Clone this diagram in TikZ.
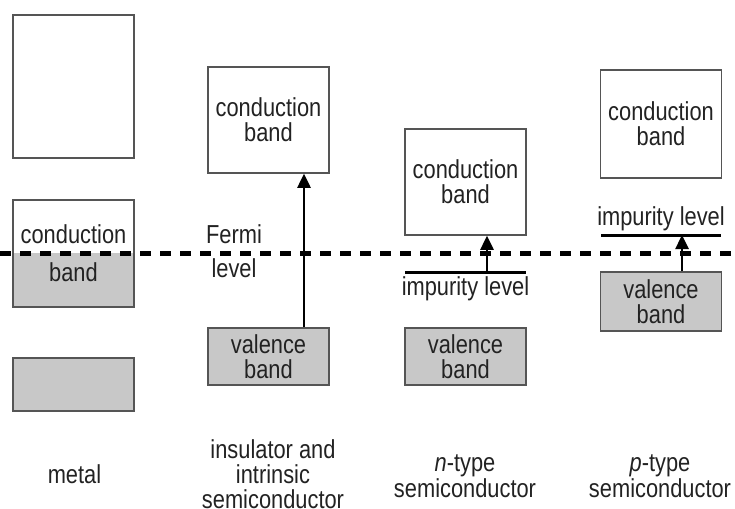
\documentclass[tikz,border=0pt]{standalone}
\usepackage{fontspec}
\setmainfont{Liberation Sans}[FakeStretch=0.84]
\usetikzlibrary{arrows.meta}
\definecolor{bandgray}{HTML}{C8C8C8}
\definecolor{edgegray}{HTML}{555555}
\definecolor{txt}{HTML}{222222}
\tikzset{
  band/.style={draw=edgegray, line width=1.5pt, minimum width=#1, inner sep=0pt, align=center, text=txt},
  wband/.style={band=121pt, fill=white},
  gband/.style={band=121pt, fill=bandgray},
  lbl/.style={align=center, text=txt, inner sep=0pt},
  excite/.style={line width=2.5pt, -{Triangle[length=14pt,width=13pt]}},
  implevel/.style={line width=3pt},
  fermi/.style={line width=5pt, dash pattern=on 11pt off 9pt}
}
\begin{document}
\begin{tikzpicture}[x=1pt,y=-1pt,font=\fontsize{26}{25}\selectfont]
\useasboundingbox (0,0) rectangle (735,508);
% metal
\node[wband, minimum height=143pt] (mtop) at (73.5,86.5) {};
\fill[bandgray] (13,253) rectangle (134,307);
\node[band=121pt, minimum height=107pt] (mmid) at (73.5,253.5) {};
\node[lbl, anchor=base] (mcond) at (73.5,243) {conduction};
\node[lbl, anchor=base] (mband) at (73.5,281) {band};
\node[gband, minimum height=53pt] (mbot) at (73.5,384.5) {};
% insulator
\node[gband, minimum height=57pt] (ival) at (268.5,356.5) {valence\\band};
\node[wband, minimum height=106pt] (icond) at (268.5,120) {conduction\\band};
% n-type
\node[wband, minimum height=106pt] (ncond) at (465.5,182) {conduction\\band};
\node[gband, minimum height=57pt] (nval) at (465.5,356.5) {valence\\band};
\coordinate (nimpL) at (405,272);
\coordinate (nimpR) at (526,272);
\coordinate (nimpA) at (487,272);
\node[lbl, anchor=base] (nimplbl) at (465.5,295) {impurity level};
% p-type
\node[wband, minimum height=108pt] (pcond) at (661,124) {conduction\\band};
\node[gband, minimum height=59pt] (pval) at (661,301.5) {valence\\band};
\coordinate (pimpL) at (601,235);
\coordinate (pimpR) at (721,235);
\coordinate (pimpA) at (682,235);
\node[lbl, anchor=base] (pimplbl) at (661,225) {impurity level};
% Fermi level
\coordinate (fL) at (0,253);
\coordinate (fR) at (735,253);
\draw[fermi] (fL) -- (fR);
\node[lbl, anchor=base] (fermitxt) at (234,243) {Fermi};
\node[lbl, anchor=base] (leveltxt) at (234,277) {level};
% impurity lines
\draw[implevel] (nimpL) -- (nimpR);
\draw[implevel] (pimpL) -- (pimpR);
% arrows
\draw[excite] (ival.north -| 304,0) -- (icond.south -| 304,0);
\draw[excite] (nimpA) -- (nimpA |- ncond.south);
\draw[excite] (pimpA |- pval.north) -- (pimpA);
% bottom labels
\node[lbl, anchor=base] (lmetal) at (74.5,483) {metal};
\node[lbl, anchor=base] (lins) at (273,508) {insulator and\\intrinsic\\semiconductor};
\node[lbl, anchor=base, font=\fontsize{26}{24}\selectfont] (lnt) at (465,497) {\textit{n}-type\\semiconductor};
\node[lbl, anchor=base, font=\fontsize{26}{24}\selectfont] (lpt) at (660,497) {\textit{p}-type\\semiconductor};
\end{tikzpicture}
\end{document}
